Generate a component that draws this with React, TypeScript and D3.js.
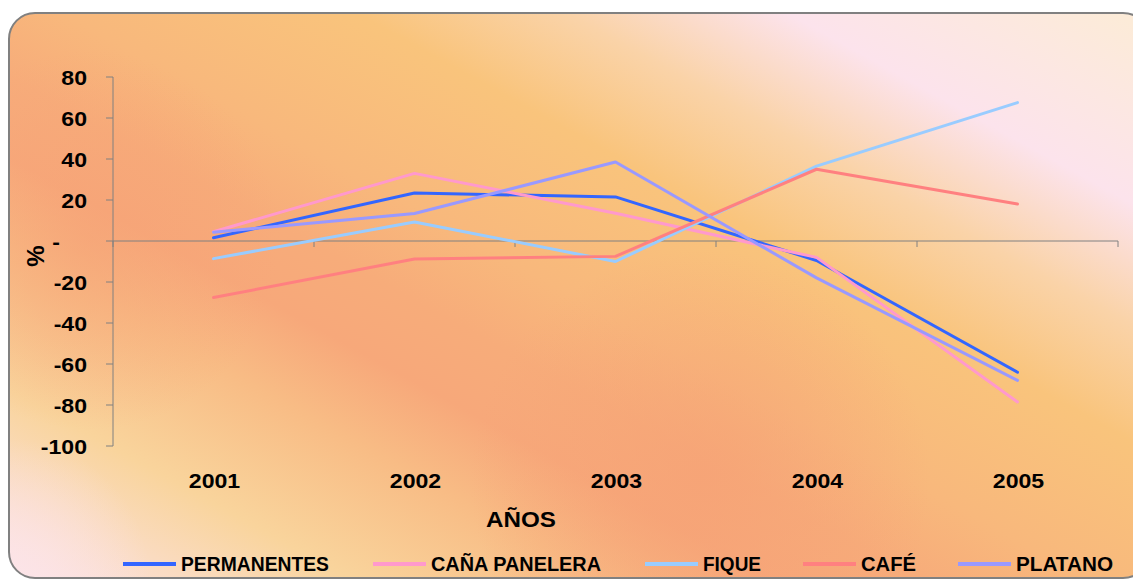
import React from "react";
import * as d3 from "d3";

// ---- data ----
const years = ["2001", "2002", "2003", "2004", "2005"];
const permanentes = [1.6, 23.4, 21.5, -9.5, -64];
const canaPanelera = [4.5, 33, 13.5, -8, -78.5];
const fique = [-8.6, 9.3, -10, 36.5, 67.5];
const cafe = [-27.6, -8.8, -7.5, 35, 18];
const platano = [4.3, 13.4, 38.5, -18, -68];
const seriesNames = ["PERMANENTES", "CAÑA PANELERA", "FIQUE", "CAFÉ", "PLATANO"];
const yTicks = [80, 60, 40, 20, 0, -20, -40, -60, -80, -100];

const seriesValues = [permanentes, canaPanelera, fique, cafe, platano];
const colors = ["#3366FF", "#FF99CC", "#99CCFF", "#FF8080", "#9999FF"];

// ---- layout ----
const W = 1133;
const H = 579;
const plot = { left: 113, right: 1118, top: 77, bottom: 446 };
const legendLineX = [123, 373, 645, 803, 958];
const legendTextW = [148, 170, 58, 55, 97];
const FONT = "'Liberation Sans', Arial, Helvetica, sans-serif";
const SX = 1.1; // horizontal stretch of the original rendering

function StretchText(props: {
  x: number;
  y: number;
  anchor: "start" | "middle" | "end";
  size: number;
  children: React.ReactNode;
}) {
  return (
    <text
      transform={`translate(${props.x},${props.y}) scale(${SX},1)`}
      textAnchor={props.anchor}
      fontSize={props.size}
      fontWeight="bold"
      fill="#000"
    >
      {props.children}
    </text>
  );
}

export default function App() {
  const x = d3.scaleBand<string>().domain(years).range([plot.left, plot.right]).padding(0);
  const y = d3.scaleLinear().domain([-100, 80]).range([plot.bottom, plot.top]);
  const cx = (yr: string) => (x(yr) as number) + x.bandwidth() / 2;
  const line = d3
    .line<number>()
    .x((_, i) => cx(years[i]))
    .y((v) => y(v));
  const y0 = y(0);
  const xTickPos = [...years.map((yr) => x(yr) as number), plot.right];

  return (
    <svg
      width={W}
      height={H}
      style={{ position: "absolute", left: 0, top: 0, display: "block" }}
      fontFamily={FONT}
    >
      <defs>
        <linearGradient id="bg" gradientUnits="userSpaceOnUse" x1={320} y1={736} x2={811} y2={-154}>
          <stop offset="0" stopColor="#FBE2E3" />
          <stop offset="0.15" stopColor="#F9D49C" />
          <stop offset="0.27" stopColor="#F8BC85" />
          <stop offset="0.35" stopColor="#F7A87A" />
          <stop offset="0.42" stopColor="#F7AC7A" />
          <stop offset="0.50" stopColor="#F8B87C" />
          <stop offset="0.64" stopColor="#F9C47C" />
          <stop offset="0.74" stopColor="#FAD3A8" />
          <stop offset="0.845" stopColor="#FCE3EC" />
          <stop offset="1" stopColor="#FCEBD8" />
        </linearGradient>
        <radialGradient id="blobA" gradientUnits="userSpaceOnUse" cx={700} cy={480} r={230}>
          <stop offset="0" stopColor="#F6A276" stopOpacity={0.75} />
          <stop offset="1" stopColor="#F6A276" stopOpacity={0} />
        </radialGradient>
        <radialGradient id="blobB" gradientUnits="userSpaceOnUse" cx={90} cy={240} r={190}>
          <stop offset="0" stopColor="#F6A276" stopOpacity={0.6} />
          <stop offset="1" stopColor="#F6A276" stopOpacity={0} />
        </radialGradient>
        <radialGradient id="blobC" gradientUnits="userSpaceOnUse" cx={10} cy={579} r={140}>
          <stop offset="0" stopColor="#FCE4E8" stopOpacity={0.9} />
          <stop offset="1" stopColor="#FCE4E8" stopOpacity={0} />
        </radialGradient>
        <clipPath id="frame">
          <rect x={9} y={13} width={1140} height={565} rx={26} ry={26} />
        </clipPath>
      </defs>
      <rect x={9} y={13} width={1140} height={565} rx={26} ry={26} fill="url(#bg)" />
      <g clipPath="url(#frame)">
        <rect x={0} y={0} width={W} height={H} fill="url(#blobA)" />
        <rect x={0} y={0} width={W} height={H} fill="url(#blobB)" />
        <rect x={0} y={0} width={W} height={H} fill="url(#blobC)" />
      </g>
      <rect x={9} y={13} width={1140} height={565} rx={26} ry={26} fill="none" stroke="#808080" strokeWidth={2} />

      {/* y axis */}
      <line x1={plot.left} x2={plot.left} y1={plot.top} y2={plot.bottom} stroke="#808080" strokeWidth={1} />
      {yTicks.map((t) => (
        <g key={t}>
          <line x1={plot.left - 7} x2={plot.left} y1={y(t)} y2={y(t)} stroke="#808080" strokeWidth={1} />
          <StretchText x={t === 0 ? 56 : 87} y={y(t) + 8} anchor={t === 0 ? "middle" : "end"} size={21}>
            {t === 0 ? "-" : String(t)}
          </StretchText>
        </g>
      ))}

      {/* x axis */}
      <line x1={plot.left} x2={plot.right} y1={y0} y2={y0} stroke="#808080" strokeWidth={1} />
      {xTickPos.map((p, i) => (
        <line key={i} x1={p} x2={p} y1={y0} y2={y0 + 6} stroke="#808080" strokeWidth={1} />
      ))}
      {years.map((yr) => (
        <StretchText key={yr} x={cx(yr) + 1} y={488} anchor="middle" size={21}>
          {yr}
        </StretchText>
      ))}

      {/* axis titles */}
      <StretchText x={521} y={527} anchor="middle" size={22}>
        AÑOS
      </StretchText>
      <text
        transform={`translate(44,256) rotate(-90)`}
        textAnchor="middle"
        fontSize={24}
        fontWeight="bold"
        fill="#000"
      >
        %
      </text>

      {/* series */}
      {seriesValues.map((vals, i) => (
        <path
          key={seriesNames[i]}
          d={line(vals) as string}
          fill="none"
          stroke={colors[i]}
          strokeWidth={3}
          strokeLinejoin="round"
          strokeLinecap="round"
        />
      ))}

      {/* legend */}
      {seriesNames.map((name, i) => (
        <g key={name}>
          <line
            x1={legendLineX[i]}
            x2={legendLineX[i] + 53}
            y1={564}
            y2={564}
            stroke={colors[i]}
            strokeWidth={4}
          />
          <text
            x={legendLineX[i] + 58}
            y={571}
            fontSize={20}
            fontWeight="bold"
            fill="#000"
            textLength={legendTextW[i]}
            lengthAdjust="spacingAndGlyphs"
          >
            {name}
          </text>
        </g>
      ))}
    </svg>
  );
}
